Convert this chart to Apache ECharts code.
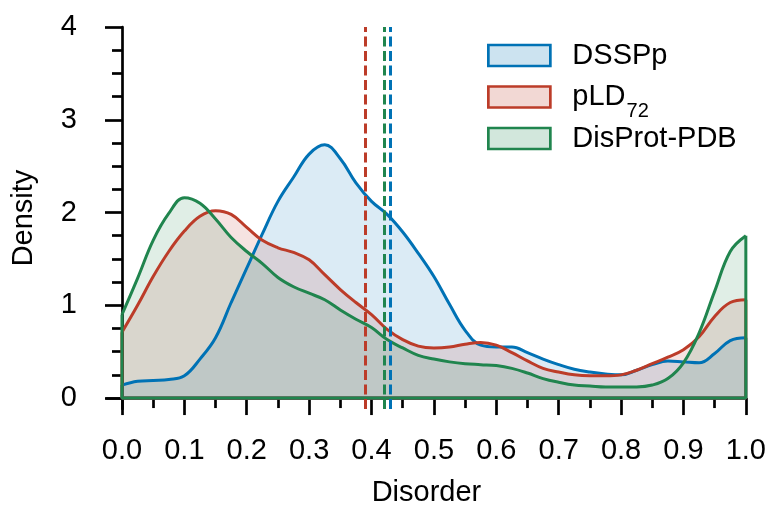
<!DOCTYPE html>
<html>
<head>
<meta charset="utf-8">
<script src="https://cdn.jsdelivr.net/npm/echarts@6/dist/echarts.min.js"></script>
<style>
html, body { margin: 0; padding: 0; background: #fff; }
#main { width: 769px; height: 512px; }
</style>
</head>
<body>
<div id="main"></div>
<script>
// disorder grid where the densities were read
var disorder = [0, 0.025, 0.05, 0.075, 0.1, 0.125, 0.15, 0.175, 0.2, 0.225,
  0.25, 0.275, 0.3, 0.325, 0.35, 0.375, 0.4, 0.425, 0.45, 0.475,
  0.5, 0.525, 0.55, 0.575, 0.6, 0.625, 0.65, 0.675, 0.7, 0.725,
  0.75, 0.775, 0.8, 0.825, 0.85, 0.875, 0.9, 0.925, 0.95, 0.975, 1.0];

var dssp = [0.14, 0.18, 0.19, 0.20, 0.24, 0.42, 0.65, 1.03, 1.40, 1.77,
  2.12, 2.38, 2.63, 2.73, 2.58, 2.32, 2.12, 1.98, 1.79, 1.56,
  1.31, 1.01, 0.73, 0.57, 0.55, 0.55, 0.49, 0.42, 0.36, 0.31,
  0.28, 0.26, 0.25, 0.30, 0.36, 0.40, 0.39, 0.38, 0.48, 0.62, 0.65];

var pld = [0.71, 1.00, 1.31, 1.58, 1.80, 1.96, 2.02, 1.98, 1.84, 1.70,
  1.62, 1.57, 1.49, 1.33, 1.17, 1.03, 0.90, 0.74, 0.63, 0.56,
  0.54, 0.55, 0.58, 0.60, 0.57, 0.49, 0.40, 0.32, 0.28, 0.25,
  0.24, 0.24, 0.25, 0.30, 0.37, 0.44, 0.52, 0.66, 0.88, 1.03, 1.06];

var disprot = [0.90, 1.29, 1.70, 1.99, 2.16, 2.10, 1.93, 1.73, 1.58, 1.45,
  1.30, 1.20, 1.13, 1.06, 0.95, 0.85, 0.76, 0.63, 0.54, 0.46,
  0.42, 0.39, 0.37, 0.36, 0.35, 0.32, 0.27, 0.21, 0.17, 0.14,
  0.13, 0.12, 0.12, 0.12, 0.14, 0.21, 0.38, 0.70, 1.15, 1.58, 1.75];

var names = ['DSSPp', 'pLD72', 'DisProt-PDB'];
var means = [0.429, 0.391, 0.420];
var colors = ['#0072B5', '#BC3C29', '#20854E'];
var fills = ['rgba(0,114,181,0.2)', 'rgba(188,60,41,0.2)', 'rgba(32,133,78,0.2)'];

var xTicks = [0, 0.1, 0.2, 0.3, 0.4, 0.5, 0.6, 0.7, 0.8, 0.9, 1.0];
var xMinor = [0.05, 0.15, 0.25, 0.35, 0.45, 0.55, 0.65, 0.75, 0.85, 0.95];
var yTicks = [0, 1, 2, 3, 4];
var yMinor = [0.25, 0.5, 0.75, 1.25, 1.5, 1.75, 2.25, 2.5, 2.75, 3.25, 3.5, 3.75];

var font = 'Liberation Sans';
var fs = 29;
var densities = [dssp, pld, disprot];

var series = [];
densities.forEach(function (vals, i) {
  series.push({
    name: names[i],
    type: 'line',
    smooth: 0.4,
    showSymbol: false,
    data: disorder.map(function (x, j) { return [x, vals[j]]; }),
    lineStyle: { color: colors[i], width: 3 },
    itemStyle: { color: colors[i] },
    areaStyle: { color: fills[i], origin: 0 },
    markLine: {
      silent: true,
      symbol: 'none',
      label: { show: false },
      lineStyle: { color: colors[i], width: 3, type: [10, 4.5], opacity: 1 },
      data: [{ xAxis: means[i] }]
    }
  });
  // outline of the filled polygon (left edge, baseline, right edge)
  series.push({
    type: 'line',
    silent: true,
    showSymbol: false,
    data: [[0, vals[0]], [0, 0], [1, 0], [1, vals[vals.length - 1]]],
    lineStyle: { color: colors[i], width: 3 }
  });
});

var tickStyle = { color: '#000', width: 2.7 };

var myChart = echarts.init(document.getElementById('main'));
myChart.setOption({
  animation: false,
  grid: { left: 107, right: 21, top: 27, bottom: 102 },
  legend: {
    orient: 'vertical',
    left: 487,
    top: 41,
    padding: 0,
    itemGap: 3,
    icon: 'rect',
    itemWidth: 62,
    itemHeight: 21,
    data: names.map(function (n, i) {
      return { name: n, itemStyle: { color: fills[i], borderColor: colors[i], borderWidth: 2.7 } };
    }),
    // every item gets the same two-part layout so the rows stay evenly spaced
    formatter: function (n) {
      return n === 'pLD72' ? '{n|pLD}{s|72}' : '{n|' + n + '}{s| }';
    },
    textStyle: {
      color: '#000',
      fontFamily: font,
      fontSize: fs,
      rich: {
        n: { fontFamily: font, fontSize: fs, color: '#000', padding: [0, 0, 0, 17] },
        s: { fontFamily: font, fontSize: 20, color: '#000', padding: [28, 0, 0, 1] }
      }
    }
  },
  xAxis: [{
    type: 'value',
    min: -0.024,
    max: 1,
    position: 'bottom',
    name: 'Disorder',
    nameLocation: 'middle',
    nameGap: 69,
    nameTextStyle: { fontFamily: font, fontSize: fs, color: '#000' },
    axisLine: { lineStyle: tickStyle },
    axisTick: { customValues: xTicks, length: 17, lineStyle: tickStyle },
    axisLabel: {
      customValues: xTicks, margin: 27, fontFamily: font, fontSize: fs, color: '#000',
      formatter: function (v) { return v.toFixed(1); }
    },
    splitLine: { show: false }
  }, {
    type: 'value',
    min: -0.024,
    max: 1,
    position: 'bottom',
    axisLine: { show: false },
    axisTick: { customValues: xMinor, length: 10, lineStyle: tickStyle },
    axisLabel: { show: false },
    splitLine: { show: false }
  }],
  yAxis: [{
    type: 'value',
    min: -0.118,
    max: 4,
    position: 'left',
    name: 'Density',
    nameLocation: 'middle',
    nameGap: 69,
    nameTextStyle: { fontFamily: font, fontSize: fs, color: '#000' },
    axisLine: { lineStyle: tickStyle },
    axisTick: { customValues: yTicks, length: 17, lineStyle: tickStyle },
    axisLabel: {
      customValues: yTicks, margin: 30, fontFamily: font, fontSize: fs, color: '#000'
    },
    splitLine: { show: false }
  }, {
    type: 'value',
    min: -0.118,
    max: 4,
    position: 'left',
    axisLine: { show: false },
    axisTick: { customValues: yMinor, length: 10, lineStyle: tickStyle },
    axisLabel: { show: false },
    splitLine: { show: false }
  }],
  series: series
});
</script>
</body>
</html>
